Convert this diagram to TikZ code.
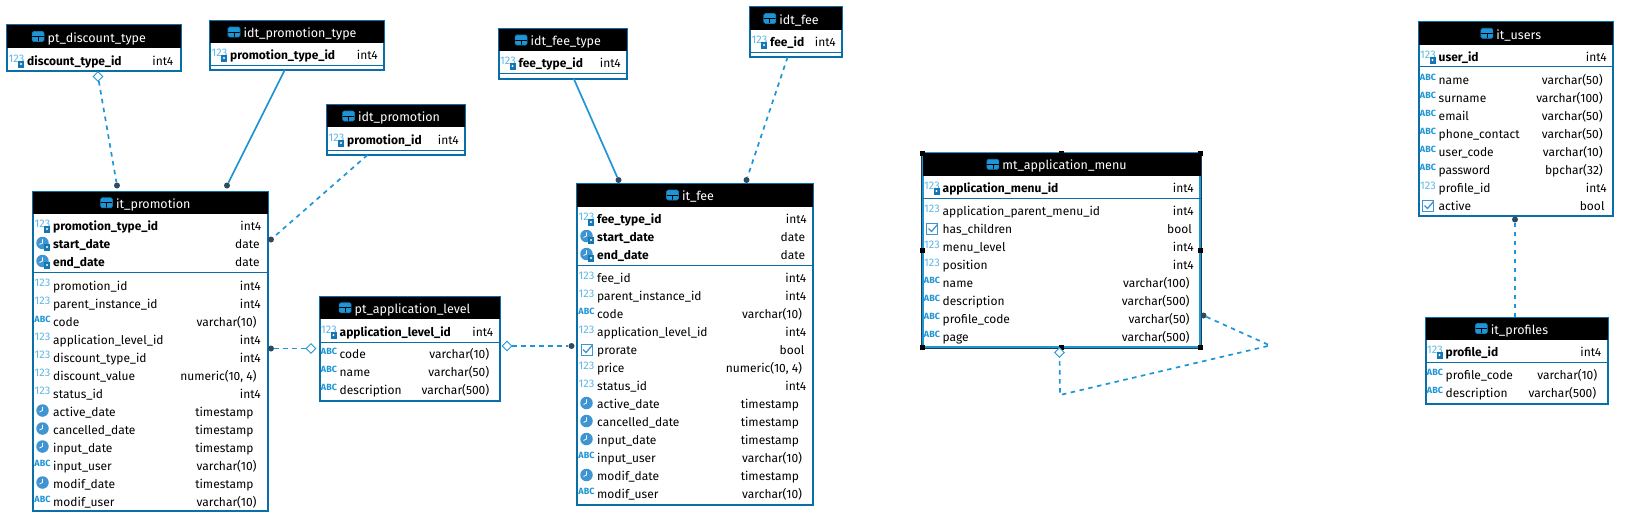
\documentclass[tikz,border=0pt]{standalone}
\usepackage{fontspec}
\setmainfont{Fira Sans}
\usetikzlibrary{positioning,shapes.geometric}
\definecolor{dbline}{HTML}{0A6FA8}
\definecolor{dbsky}{HTML}{1E96D6}
\definecolor{dbnum}{HTML}{5DB8E8}
\definecolor{dbclock}{HTML}{3F95D2}
\definecolor{dbkey}{HTML}{1477B5}
\definecolor{dbdot}{HTML}{2E4A5F}
\definecolor{dbedge}{HTML}{1F3B55}
\catcode`\_=12
\tikzset{
  dbbox/.style={draw=dbline,line width=2pt,fill=white,inner sep=0pt,outer sep=0pt},
  dbhead/.style={fill=black,inner sep=0pt,outer sep=0pt},
  dbtitle/.style={text=white,inner sep=0pt,font=\fontsize{12.5}{14}\selectfont},
  dbicon/.style={draw=dbkey,fill=dbsky,rounded corners=1.5pt,line width=.6pt,minimum width=12pt,minimum height=10pt,inner sep=0pt,
    path picture={\draw[black,line width=.8pt] (path picture bounding box.west) -- (path picture bounding box.east);
      \draw[black,line width=.6pt] (path picture bounding box.south) -- (path picture bounding box.center);}},
  colname/.style={anchor=base west,inner sep=0pt,font=\fontsize{12}{14}\selectfont},
  pkname/.style={anchor=base west,inner sep=0pt,font=\fontsize{12}{14}\selectfont\bfseries},
  coltype/.style={anchor=base east,inner sep=0pt,font=\fontsize{12}{14}\selectfont},
  icnum/.style={text=dbnum,inner sep=0pt,yshift=3pt,font=\fontsize{11}{11}\selectfont,node contents={123}},
  icabc/.style={text=dbsky,inner sep=0pt,yshift=3pt,font=\fontsize{9}{9}\selectfont\bfseries,node contents={ABC}},
  icclock/.style={circle,fill=dbclock,minimum size=12.5pt,inner sep=0pt,yshift=1.5pt,node contents={},
    path picture={\draw[white,line width=.8pt] (path picture bounding box.north) ++(0,-2.5pt) -- (path picture bounding box.center) -- ++(-3pt,-1.5pt);}},
  iccheck/.style={draw=dbclock,line width=.8pt,minimum size=11pt,inner sep=0pt,yshift=1pt,node contents={},
    path picture={\draw[dbclock,line width=1.3pt] (path picture bounding box.west) ++(2pt,0) -- ++(3pt,-3pt) -- ++(6pt,7pt);}},
  ickey/.style={fill=dbkey,minimum width=6pt,minimum height=7pt,inner sep=0pt,
    path picture={\fill[white] (path picture bounding box.center) circle (1.1pt);}},
  dbsep/.style={draw=dbline,line width=1pt},
  fkline/.style={draw=dbsky,line width=1.7pt},
  fkdash/.style={fkline,dash pattern=on 4.5pt off 4.5pt},
  fkdot/.style={circle,fill=dbdot,minimum size=6pt,inner sep=0pt},
  fkdia/.style={diamond,draw=dbsky,fill=white,line width=.9pt,minimum size=10pt,inner sep=0pt},
  handle/.style={fill=black,minimum size=5pt,inner sep=0pt},
  menuedge/.style={draw=dbedge,line width=1.2pt}
}
% name, left, top, right, bottom, bottom of the header
\newcommand{\dbtable}[7][dbbox]{
  \node[#1,minimum width={#5-#3},minimum height={#6-#4}] (#2) at ({(#3+#5)/2},{(#4+#6)/2}) {};
  \node[dbhead,minimum width={#5-#3},minimum height={#7-#4},anchor=north] (#2-head) at (#2.north) {};
  \node[dbtitle,xshift=3pt,yshift=-2pt] (#2-title) at (#2-head) {#2};
  \node[dbicon,left=3pt of #2-title,yshift=2pt] (#2-icon) {};
}
% key rows: table, y of the first, rows as icon/name/type/right margin
\newcommand{\dbkeys}[3]{
  \foreach \ic/\nm/\ty/\mrg [count=\i from 0] in {#3} {
    \pgfmathsetmacro\ypos{#2+18*\i}
    \node[\ic,name=#1-ic\i,at={([xshift=9.5pt]#1.west |- 0,\ypos)}];
    \node[ickey] (#1-kb\i) at ([xshift=14pt]#1.west |- 0,{\ypos+2.5}) {};
    \node[pkname] (#1-pk\i) at ([xshift=20pt]#1.west |- 0,{\ypos+4}) {\nm};
    \node[coltype] (#1-pt\i) at ([xshift=-\mrg pt]#1.east |- 0,{\ypos+4}) {\ty};
  }
}
% plain rows
\newcommand{\dbrows}[3]{
  \foreach \ic/\nm/\ty/\mrg [count=\i from 0] in {#3} {
    \pgfmathsetmacro\ypos{#2+18*\i}
    \node[\ic,name=#1-ic\i,at={([xshift=9.5pt]#1.west |- 0,\ypos)}];
    \node[colname] (#1-nm\i) at ([xshift=20pt]#1.west |- 0,{\ypos+4}) {\nm};
    \node[coltype] (#1-ty\i) at ([xshift=-\mrg pt]#1.east |- 0,{\ypos+4}) {\ty};
  }
}
\newcommand{\dbsplit}[2]{
  \draw[dbsep] (#1.west |- 0,#2) -- (#1.east |- 0,#2);
}
\begin{document}
\begin{tikzpicture}[x=1pt,y=-1pt]
\useasboundingbox (0,0) rectangle (1631,512);

\dbtable{pt_discount_type}{7}{25}{180.5}{71}{48}
\dbkeys{pt_discount_type}{61.5}{icnum/discount_type_id/int4/7}

\dbtable{idt_promotion_type}{210}{21}{384}{70}{43}
\dbkeys{idt_promotion_type}{55.5}{icnum/promotion_type_id/int4/6}
\dbsplit{idt_promotion_type}{65.5}

\dbtable{idt_promotion}{327}{105}{465}{155}{127}
\dbkeys{idt_promotion}{140.5}{icnum/promotion_id/int4/6}
\dbsplit{idt_promotion}{150}

\dbtable{it_promotion}{33}{192}{267.5}{511}{213.5}
\dbkeys{it_promotion}{226.5}{icnum/promotion_type_id/int4/6,icclock/start_date/date/7.7,icclock/end_date/date/7.7}
\dbsplit{it_promotion}{272}
\dbrows{it_promotion}{286}{icnum/promotion_id/int4/6.5,icnum/parent_instance_id/int4/6.5,icabc/code/varchar(10)/10.7,
  icnum/application_level_id/int4/6.5,icnum/discount_type_id/int4/6.5,icnum/discount_value/{numeric(10, 4)}/10.7,
  icnum/status_id/int4/6.5,icclock/active_date/timestamp/13.7,icclock/cancelled_date/timestamp/13.7,
  icclock/input_date/timestamp/13.7,icabc/input_user/varchar(10)/10.7,icclock/modif_date/timestamp/13.7,
  icabc/modif_user/varchar(10)/10.7}

\dbtable{pt_application_level}{319.5}{297}{499.5}{401}{318.5}
\dbkeys{pt_application_level}{332.5}{icnum/application_level_id/int4/6}
\dbsplit{pt_application_level}{342.5}
\dbrows{pt_application_level}{354.5}{icabc/code/varchar(10)/10,icabc/name/varchar(50)/10,icabc/description/varchar(500)/10}

\dbtable{idt_fee_type}{498.5}{29}{627}{78.5}{51}
\dbkeys{idt_fee_type}{63.5}{icnum/fee_type_id/int4/6}
\dbsplit{idt_fee_type}{73.5}

\dbtable{idt_fee}{750}{7}{842}{57}{30}
\dbkeys{idt_fee}{42.5}{icnum/fee_id/int4/6}
\dbsplit{idt_fee}{52}

\dbtable{it_fee}{577}{183.5}{813}{505}{206.5}
\dbkeys{it_fee}{219.5}{icnum/fee_type_id/int4/6,icclock/start_date/date/7.7,icclock/end_date/date/7.7}
\dbsplit{it_fee}{265}
\dbrows{it_fee}{278.5}{icnum/fee_id/int4/6.5,icnum/parent_instance_id/int4/6.5,icabc/code/varchar(10)/10.7,
  icnum/application_level_id/int4/6.5,iccheck/prorate/bool/8.5,icnum/price/{numeric(10, 4)}/10.7,
  icnum/status_id/int4/6.5,icclock/active_date/timestamp/13.7,icclock/cancelled_date/timestamp/13.7,
  icclock/input_date/timestamp/13.7,icabc/input_user/varchar(10)/10.7,icclock/modif_date/timestamp/13.7,
  icabc/modif_user/varchar(10)/10.7}

\dbtable[dbbox,draw=dbsky,line width=3pt]{mt_application_menu}{922.5}{153}{1200.5}{347.5}{175.5}
\dbkeys{mt_application_menu}{188.5}{icnum/application_menu_id/int4/6.5}
\dbsplit{mt_application_menu}{198.5}
\dbrows{mt_application_menu}{211.5}{icnum/application_parent_menu_id/int4/6.5,iccheck/has_children/bool/8.5,icnum/menu_level/int4/6.5,
  icnum/position/int4/6.5,icabc/name/varchar(100)/10.7,icabc/description/varchar(500)/10.7,icabc/profile_code/varchar(50)/10.7,
  icabc/page/varchar(500)/10.7}
\draw[menuedge] ([xshift=-1.2pt]mt_application_menu.north west) -- ([shift={(-1.2pt,-1.2pt)}]mt_application_menu.south west)
  -- ([shift={(1.2pt,-1.2pt)}]mt_application_menu.south east) -- ([xshift=1.2pt]mt_application_menu.north east);
\foreach \an [count=\k] in {north west,north,north east,west,east,south west,south,south east}
  \node[handle] (menu-handle\k) at (mt_application_menu.\an) {};

\dbtable{it_users}{1418.5}{22}{1613}{216}{44.5}
\dbkeys{it_users}{57.5}{icnum/user_id/int4/6}
\dbsplit{it_users}{66.5}
\dbrows{it_users}{80.5}{icabc/name/varchar(50)/10,icabc/surname/varchar(100)/10,icabc/email/varchar(50)/10,
  icabc/phone_contact/varchar(50)/10,icabc/user_code/varchar(10)/10,icabc/password/bpchar(32)/10,icnum/profile_id/int4/6,
  iccheck/active/bool/8.3}

\dbtable{it_profiles}{1425.5}{317.5}{1607.5}{403.5}{339.5}
\dbkeys{it_profiles}{352.5}{icnum/profile_id/int4/6}
\dbsplit{it_profiles}{362.5}
\dbrows{it_profiles}{375.5}{icabc/profile_code/varchar(10)/10,icabc/description/varchar(500)/11}

% connectors
\node[fkdia] (dia_discount) at (98,76.5) {};
\node[fkdot] (dot_discount) at (117,185.5) {};
\draw[fkdash] (dia_discount) -- (dot_discount);
\node[fkdot] (dot_promotype) at (227,185.5) {};
\draw[fkline] (idt_promotion_type) -- (dot_promotype);
\node[fkdot] (dot_promo) at (271,239.5) {};
\draw[fkdash] (idt_promotion) -- (dot_promo);
\node[fkdot] (dot_level_a) at (271,348.5) {};
\node[fkdia] (dia_level_a) at (311,348.5) {};
\draw[fkdash] (dot_level_a) -- (dia_level_a);
\node[fkdia] (dia_level_b) at (507,346) {};
\node[fkdot] (dot_level_b) at (571.5,346) {};
\draw[fkdash] (dia_level_b) -- (dot_level_b);
\node[fkdot] (dot_feetype) at (618.5,180) {};
\draw[fkline] (idt_fee_type) -- (dot_feetype);
\node[fkdot] (dot_fee) at (746.5,180) {};
\draw[fkdash] (idt_fee) -- (dot_fee);
\node[fkdot] (dot_users) at (1515,219.5) {};
\draw[fkdash] (dot_users) -- (dot_users |- it_profiles.north);
\node[fkdot] (dot_menu) at (1203.5,315.5) {};
\node[fkdia] (dia_menu) at (1059.5,352.5) {};
\coordinate (menu_a) at (1270,345.5);
\coordinate (menu_b) at (1060,395);
\draw[fkdash] (dot_menu) -- (menu_a) -- (menu_b) -- (dia_menu);
\end{tikzpicture}
\end{document}
